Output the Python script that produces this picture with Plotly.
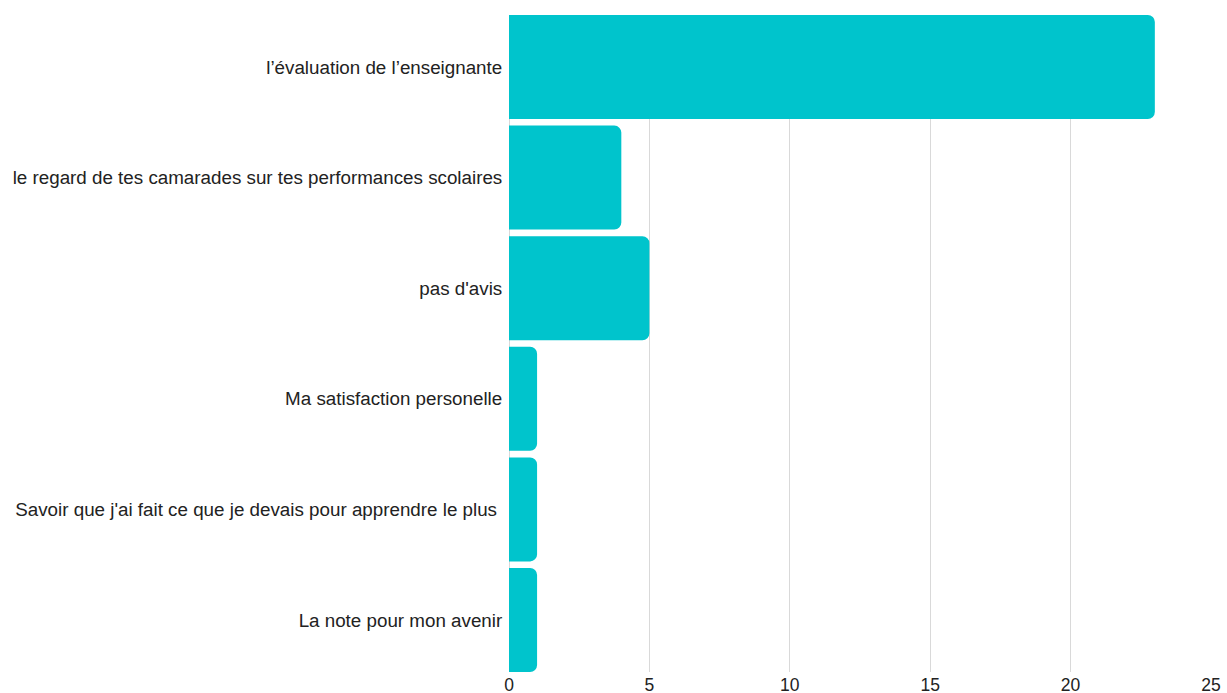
import plotly.graph_objects as go

categories = [
    "l’évaluation de l’enseignante",
    "le regard de tes camarades sur tes performances scolaires",
    "pas d'avis",
    "Ma satisfaction personelle",
    "Savoir que j'ai fait ce que je devais pour apprendre le plus\u00a0",
    "La note pour mon avenir",
]
counts = [23, 4, 5, 1, 1, 1]
x_ticks = [0, 5, 10, 15, 20, 25]

BAR_GAP = 0.06

fig = go.Figure(
    go.Bar(
        x=counts,
        y=categories,
        orientation="h",
        marker=dict(color="#00C4CC", line=dict(width=0)),
        hoverinfo="x+y",
    )
)

fig.update_layout(
    width=1227,
    height=693,
    margin=dict(l=509, r=16, t=15, b=21),
    paper_bgcolor="white",
    plot_bgcolor="white",
    bargap=BAR_GAP,
    barcornerradius=7,
    showlegend=False,
    font=dict(family="Liberation Sans, Arial, sans-serif", size=18.8, color="#222222"),
)

fig.update_xaxes(
    range=[0, 25],
    tickvals=x_ticks,
    showgrid=True,
    gridcolor="#d9d9d9",
    gridwidth=1,
    zeroline=True,
    zerolinecolor="#d9d9d9",
    zerolinewidth=1,
    showline=False,
    ticks="",
    automargin=False,
    tickfont=dict(size=17.5, color="#222222"),
)

# trim the outer half-gaps so the first and last bars touch the plot edges
n = len(categories)
fig.update_yaxes(
    range=[n - 0.5 - BAR_GAP / 2, -0.5 + BAR_GAP / 2],
    showgrid=False,
    zeroline=False,
    showline=False,
    ticks="outside",
    ticklen=2,
    tickcolor="rgba(0,0,0,0)",
    automargin=False,
    tickfont=dict(size=18.8, color="#222222"),
)

fig.write_html("out.html")
